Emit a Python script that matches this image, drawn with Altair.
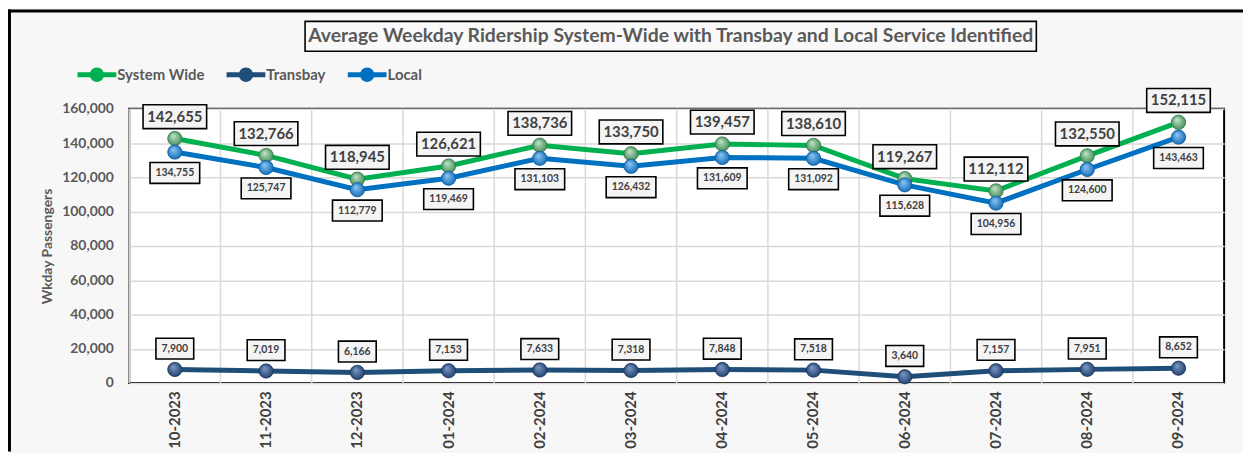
import altair as alt
import pandas as pd

months = ["10-2023", "11-2023", "12-2023", "01-2024", "02-2024", "03-2024",
          "04-2024", "05-2024", "06-2024", "07-2024", "08-2024", "09-2024"]
system_wide = [142655, 132766, 118945, 126621, 138736, 133750,
               139457, 138610, 119267, 112112, 132550, 152115]
transbay = [7900, 7019, 6166, 7153, 7633, 7318, 7848, 7518, 3640, 7157, 7951, 8652]
local = [134755, 125747, 112779, 119469, 131103, 126432,
         131609, 131092, 115628, 104956, 124600, 143463]
series_names = ["System Wide", "Transbay", "Local"]
line_colors = ["#00b050", "#1f4e79", "#0070c0"]
y_ticks = [0, 20000, 40000, 60000, 80000, 100000, 120000, 140000, 160000]
title_text = "Average Weekday Ridership System-Wide with Transbay and Local Service Identified"

rows = []
for name, vals in zip(series_names, [system_wide, transbay, local]):
    for m, v in zip(months, vals):
        rows.append({"month": m, "series": name, "value": v})
df = pd.DataFrame(rows)

W, H = 1102, 276
FONT = "Lato"
TXT = "#404040"
AX = "#595959"

xs = alt.Scale(type="band", paddingInner=0, paddingOuter=0, round=False)
X = alt.X("month:N", sort=months, scale=xs, title=None)
Y = alt.Y("value:Q", scale=alt.Scale(domain=[0, 160000], nice=False),
          axis=alt.Axis(values=y_ticks, format=",.0f"), title="Wkday Passengers")

base = alt.Chart(df)
color_scale = alt.Scale(domain=series_names, range=line_colors)


def box(w, h):
    hh = h / w
    return f"M-1,{-hh:.4f}L1,{-hh:.4f}L1,{hh:.4f}L-1,{hh:.4f}Z", w * w


legend_path = ("M-1,-0.13L-0.3,-0.13L-0.3,0.13L-1,0.13Z "
               "M0.3,-0.13L1,-0.13L1,0.13L0.3,0.13Z "
               "M-0.37,0A0.37,0.37 0 1,1 0.37,0A0.37,0.37 0 1,1 -0.37,0Z")

legend = alt.Legend(
    orient="none", legendX=-52, legendY=-54, direction="horizontal",
    title=None, symbolType=legend_path, symbolSize=1521,
    symbolStrokeWidth=0, labelFont=FONT, labelFontSize=15,
    labelFontWeight="bold", labelColor=AX, labelOffset=1,
    columnPadding=22, padding=0)
COLOR = alt.Color("series:N", scale=color_scale, legend=legend)

vgrid = alt.Chart(pd.DataFrame({"month": months})).mark_rule(
    color="#d9d9d9", strokeWidth=1.5
).encode(x=alt.X("month:N", sort=months, scale=xs, bandPosition=0, title=None))

lines = base.mark_line(strokeWidth=5).encode(
    x=X, y=Y, color=COLOR, detail="series:N"
)

legend_pts = base.mark_point(filled=True, size=200, opacity=1).encode(
    x=X, y=Y, color=COLOR,
)

grads = {
    "System Wide": ("#c4e8cb", "#3f8a55", "#2f6e40"),
    "Transbay": ("#7e9cc8", "#1f3d6b", "#17304f"),
    "Local": ("#8fcaf5", "#0f68b5", "#0a5290"),
}
spheres = []
for name in series_names:
    light, dark, edge = grads[name]
    g = {"gradient": "radial", "x1": 0.38, "y1": 0.3, "r1": 0.0,
         "x2": 0.5, "y2": 0.5, "r2": 0.55,
         "stops": [{"offset": 0, "color": light}, {"offset": 1, "color": dark}]}
    spheres.append(
        base.transform_filter(alt.datum.series == name)
        .mark_circle(size=210, fill=g, opacity=1, stroke=edge, strokeWidth=0.6)
        .encode(x=X, y=Y)
    )

label_specs = [
    ("System Wide", 64, 24, -22, 15),
    ("Local", 50, 21, 21, 10.5),
    ("Transbay", 38, 21, -21, 10.5),
]
label_layers = []
for name, bw, bh, off, fs in label_specs:
    path, size = box(bw, bh)
    sub = base.transform_filter(alt.datum.series == name)
    label_layers.append(
        sub.mark_point(shape=path, size=size, filled=False, fill="#f4f4f4",
                       stroke="#000000", strokeWidth=1.6, opacity=1,
                       yOffset=off).encode(x=X, y=Y)
    )
    label_layers.append(
        sub.mark_text(font=FONT, fontSize=fs, fontWeight="bold", color=TXT,
                      baseline="middle", align="center", yOffset=off)
        .encode(x=X, y=Y, text=alt.Text("value:Q", format=","))
    )

tdf = pd.DataFrame({"t": [title_text]})
tpath, tsize = box(736, 30)
title_box = alt.Chart(tdf).mark_point(
    shape=tpath, size=tsize, filled=False, fill="#f9f9f9", stroke="#000000",
    strokeWidth=1.6, opacity=1
).encode(x=alt.value(545), y=alt.value(-73))
title_txt = alt.Chart(tdf).mark_text(
    font=FONT, fontSize=19.5, fontWeight="bold", color=AX,
    align="center", baseline="middle"
).encode(x=alt.value(545), y=alt.value(-73), text="t:N")

frame_df = pd.DataFrame({"f": [1]})
frame_left = alt.Chart(frame_df).mark_rule(color="#000000", strokeWidth=3).encode(
    x=alt.value(-120.5), y=alt.value(-100), y2=alt.value(H + 69))
frame_top = alt.Chart(frame_df).mark_rule(color="#000000", strokeWidth=3).encode(
    x=alt.value(-122), x2=alt.value(W + 19), y=alt.value(-98.5))

chart = alt.layer(
    vgrid, lines, legend_pts, *spheres, *label_layers,
    title_box, title_txt, frame_left, frame_top
).properties(
    width=W, height=H,
    autosize=alt.AutoSizeParams(type="none"),
    padding={"left": 122, "top": 100, "right": 19, "bottom": 69},
    background="#f7f7f7",
).configure_view(
    stroke="#000000", strokeWidth=2, fill="#ffffff"
).configure_axisY(
    grid=True, gridColor="#d9d9d9", gridWidth=1.5, domain=False, ticks=False,
    labelFont=FONT, labelFontSize=14, labelFontWeight="bold", labelColor=AX,
    labelPadding=16, titleFont=FONT, titleFontSize=14, titleFontWeight="bold",
    titleColor=AX, titlePadding=7
).configure_axisX(
    grid=False, domain=False, ticks=False, labelAngle=-90,
    labelFont=FONT, labelFontSize=15, labelFontWeight="bold", labelColor=TXT,
    labelPadding=8
)

chart.save("out.html", embed_options={"renderer": "svg", "actions": False})
